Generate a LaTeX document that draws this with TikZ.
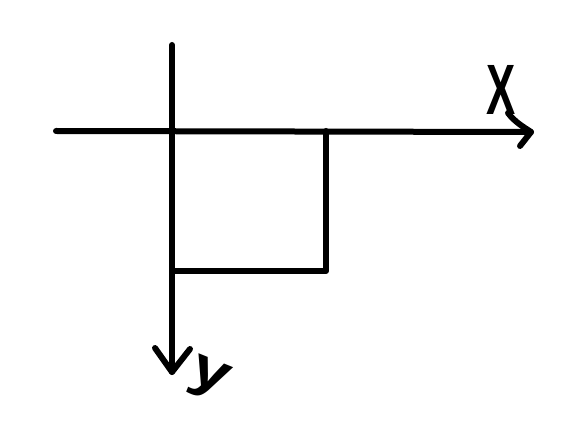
\documentclass[tikz,border=0pt]{standalone}
\usepackage{fontspec}
\setmainfont{Liberation Sans}
\begin{document}
\begin{tikzpicture}[x=1pt,y=-1pt,
  stroke/.style={line width=6pt,line cap=round,line join=round,draw=black},
  lbl/.style={inner sep=0pt,font=\fontsize{46}{46}\selectfont\bfseries}]
\useasboundingbox[fill=white] (0,0) rectangle (569,427);
% axes
\coordinate (xl) at (56,131);
\coordinate (xr) at (531,132);
\coordinate (yt) at (172,45);
\coordinate (yb) at (172,372);
\coordinate (O) at (172,131);
\coordinate (P) at (326,131);
\coordinate (Q) at (326,271);
\coordinate (R) at (172,271);
\draw[stroke] (xl) -- (xr);
\draw[stroke] (yt) -- (yb);
% hand-drawn arrowheads
\coordinate (xa1) at (508,113);
\coordinate (xa2) at (520,146);
\draw[stroke] (xa1) .. controls (515,122) and (522,126) .. (xr) -- (xa2);
\coordinate (ya1) at (155,348);
\coordinate (ya2) at (190,349);
\draw[stroke] (ya1) -- (yb) -- (ya2);
% rectangle
\draw[stroke] (P) -- (Q) -- (R);
% labels
\node[lbl,anchor=center] (xlab) at (501,90) {\scalebox{0.95}[1.55]{X}};
\node[lbl,anchor=center,rotate=-22] (ylab) at (209,379) {\scalebox{1.5}[1.2]{y}};
\end{tikzpicture}
\end{document}
